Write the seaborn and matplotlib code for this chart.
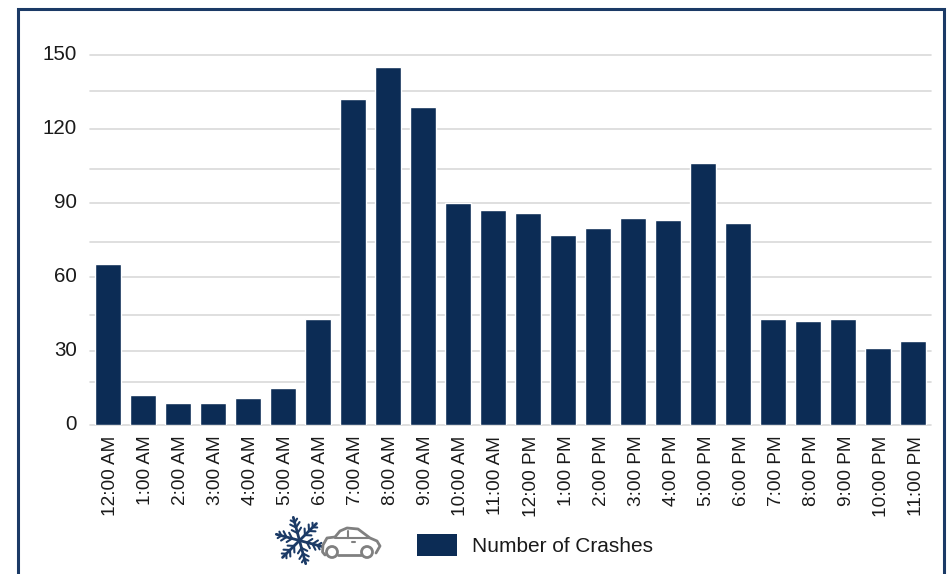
import numpy as np
import pandas as pd
import matplotlib
matplotlib.use("Agg")
import matplotlib.pyplot as plt
import matplotlib.transforms as mtrans
import seaborn as sns
from matplotlib.patches import Rectangle, Circle

hours = ["12:00 AM","1:00 AM","2:00 AM","3:00 AM","4:00 AM","5:00 AM","6:00 AM","7:00 AM","8:00 AM","9:00 AM","10:00 AM","11:00 AM",
         "12:00 PM","1:00 PM","2:00 PM","3:00 PM","4:00 PM","5:00 PM","6:00 PM","7:00 PM","8:00 PM","9:00 PM","10:00 PM","11:00 PM"]
crashes = [65,12,9,9,11,15,43,132,145,129,90,87,86,77,80,84,83,106,82,43,42,43,31,34]
major_ticks = [0,30,60,90,120,150]
grid_values = [0,17.2,30,44.6,60,74.2,90,103.9,120,135.5,150]
series_name = "Number of Crashes"
NAVY = "#0c2c55"
W, H = 951, 574

sns.set_theme(style="white")
plt.rcParams['font.family'] = ['Liberation Sans', 'DejaVu Sans']
fig = plt.figure(figsize=(W/100, H/100), dpi=100)
ax = fig.add_axes([90.2/W, 1-424.7/H, 840.6/W, 369.7/H])
df = pd.DataFrame({"hour": hours, "crashes": crashes})
sns.barplot(data=df, x="hour", y="crashes", color=NAVY, saturation=1, width=0.745, ax=ax, zorder=3)
ax.set_xlim(-0.5, 23.5)
ax.set_ylim(0, 150)
ax.set_xlabel(""); ax.set_ylabel("")
for g in grid_values:
    ax.axhline(g, color="#d9d9d9", lw=1.2, zorder=1, clip_on=False)
for s in ax.spines.values():
    s.set_visible(False)
ax.set_yticks(major_ticks)
ax.set_yticklabels([str(v) for v in major_ticks], fontsize=14.8, color="#1a1a1a")
ax.tick_params(axis="y", length=0, pad=9.5)
ax.tick_params(axis="x", length=0, pad=8)
ax.set_xticks(range(len(hours)))
ax.set_xticklabels(hours, rotation=90, fontsize=13.7, color="#1a1a1a", va="top", ha="center")
yshift = mtrans.ScaledTranslation(0, 2.7/100, fig.dpi_scale_trans)
for lab in ax.get_yticklabels():
    lab.set_transform(lab.get_transform() + yshift)
xshift = mtrans.ScaledTranslation(3/100, 0, fig.dpi_scale_trans)
for lab in ax.get_xticklabels():
    lab.set_transform(lab.get_transform() + xshift)

# overlay in pixel coordinates (outer frame, legend, icon)
ov = fig.add_axes([0, 0, 1, 1], facecolor="none")
ov.set_xlim(0, W); ov.set_ylim(H, 0); ov.axis("off")
FR = "#1b3a66"
ov.plot([17.5, 17.5, 943.5, 943.5], [H+5, 8.5, 8.5, H+5], color=FR, lw=2.2, solid_joinstyle="miter")
ov.add_patch(Rectangle((417, 534), 40, 22, facecolor=NAVY, edgecolor="none"))
ov.text(472, 546.5, series_name, fontsize=15.05, va="center", ha="left", color="#1a1a1a")

# snowflake
cx, cy, r = 299.5, 540.5, 24
for a in np.deg2rad(np.arange(15, 375, 60)):
    d = np.array([np.cos(a), np.sin(a)])
    ov.plot([cx, cx+r*d[0]], [cy, cy+r*d[1]], color=FR, lw=2.0, solid_capstyle="round")
    for t, l in [(0.32, 6.5), (0.56, 6.5), (0.78, 4.5)]:
        for s in (-1, 1):
            b = a + s*np.deg2rad(48)
            p = np.array([cx, cy]) + t*r*d
            ov.plot([p[0], p[0]+l*np.cos(b)], [p[1], p[1]+l*np.sin(b)], color=FR, lw=1.5, solid_capstyle="round")

# car
G = "#808080"
car_x = [325, 322.5, 323, 327, 335, 340, 347, 358, 370, 377, 380, 376]
car_y = [555, 552, 545, 538, 537, 531, 528, 529, 538, 541, 546, 553]
ov.plot(car_x, car_y, color=G, lw=2.0, solid_joinstyle="round")
ov.plot([335, 370], [538, 538], color=G, lw=1.5)
ov.plot([348, 348], [531, 538], color=G, lw=1.5)
ov.plot([338, 361], [555, 555], color=G, lw=2.0)
ov.plot([352, 355], [542, 542], color=G, lw=1.5)
for x in (332, 367):
    ov.add_patch(Circle((x, 552), 5.5, facecolor="white", edgecolor=G, lw=2.0, zorder=4))

fig.savefig("out.png", dpi=100, facecolor="white")
